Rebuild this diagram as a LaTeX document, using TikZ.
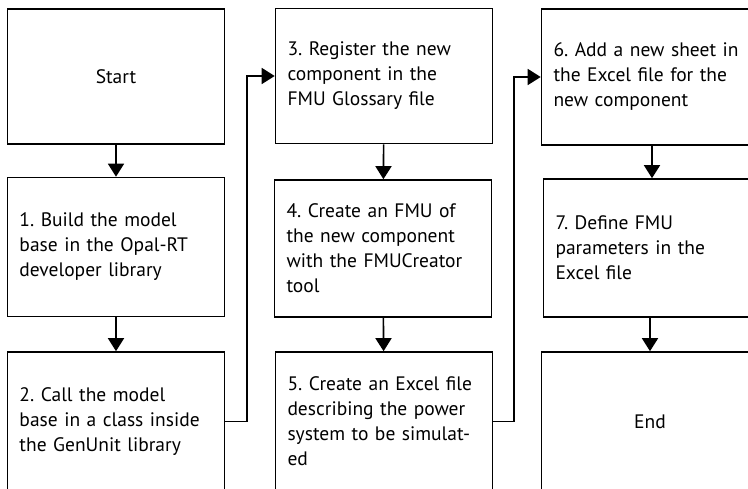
\documentclass[tikz,border=0pt]{standalone}
\usepackage{fontspec}
\setmainfont{PT Sans}
\usetikzlibrary{arrows.meta}
\frenchspacing
\begin{document}
\begin{tikzpicture}[x=1pt,y=-1pt,
  box/.style={draw,line width=1.6pt,minimum width=217pt,inner xsep=12pt,inner ysep=0pt,
    font=\fontsize{19.5}{25}\selectfont},
  stepbox/.style={box,text width=193pt,align=left},
  endbox/.style={box,align=center},
  flow/.style={line width=1.6pt,-{Triangle[width=16pt,length=13pt]}}]
\clip (0,0) rectangle (748,489);
\fill[white] (0,0) rectangle (748,489);
\node[endbox,minimum height=135pt] (s) at (116,76.5) {Start};
\node[stepbox,minimum height=139pt] (b1) at (116,247) {1. Build the model\\base in the Opal-RT\\developer library};
\node[stepbox,minimum height=139pt] (b2) at (116,421.5) {2. Call the model\\base in a class inside\\the GenUnit library};
\node[stepbox,minimum height=135pt] (b3) at (384,76) {3. Register the new\\component in the\\FMU Glossary file};
\node[stepbox,minimum height=137pt] (b4) at (383,248.5) {4. Create an FMU of\\the new component\\with the FMUCreator\\tool};
\node[stepbox,minimum height=139pt] (b5) at (384,421.5) {5. Create an Excel file\\describing the power\\system to be simulat-\\ed};
\node[stepbox,minimum height=136pt] (b6) at (650,77) {6. Add a new sheet in\\the Excel file for the\\new component};
\node[stepbox,minimum height=138pt] (b7) at (652,248) {7. Define FMU\\parameters in the\\Excel file};
\node[endbox,minimum height=139pt] (e) at (650,421.5) {End};
\coordinate (c1) at (247,421.5);
\coordinate (c2) at (514,421.5);
\draw[flow] (s) -- (b1);
\draw[flow] (b1) -- (b2);
\draw[flow] (b2.east) -- (c1) |- (b3.west);
\draw[flow] (b3) -- (b4);
\draw[flow] (b4) -- (b5);
\draw[flow] (b5.east) -- (c2) |- (b6.west);
\draw[flow] (b6.south -| b7.north) -- (b7.north);
\draw[flow] (b7.south -| e.north) -- (e.north);
\end{tikzpicture}
\end{document}
